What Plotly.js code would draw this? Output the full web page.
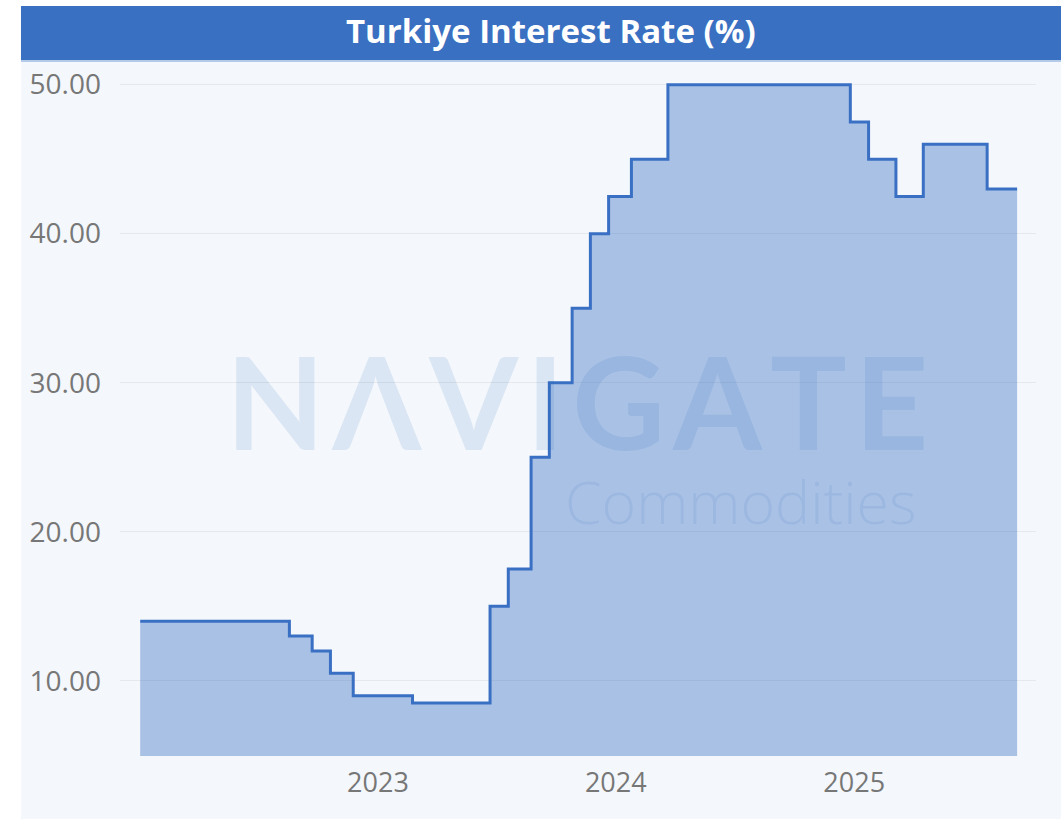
<!DOCTYPE html>
<html>
<head>
<meta charset="utf-8">
<script src="https://cdn.plot.ly/plotly-3.0.1.min.js"></script>
<style>html,body{margin:0;padding:0;background:#fff;}#chart{width:1061px;height:819px;}</style>
</head>
<body>
<div id="chart"></div>
<script>
// Policy-rate change dates (start of each level) and rate values (%)
const dates = [
  "2022-01-01","2022-08-18","2022-09-22","2022-10-20","2022-11-24",
  "2023-02-23","2023-06-22","2023-07-20","2023-08-24","2023-09-21",
  "2023-10-26","2023-11-23","2023-12-21","2024-01-25","2024-03-21",
  "2024-12-26","2025-01-23","2025-03-06","2025-04-17","2025-07-24",
  "2025-09-08"
];
const rates = [
  14, 13, 12, 10.5, 9,
  8.5, 15, 17.5, 25, 30,
  35, 40, 42.5, 45, 50,
  47.5, 45, 42.5, 46, 43,
  43
];
const xTickVals = ["2023-01-01","2024-01-01","2025-01-01"];
const xTickText = ["2023","2024","2025"];
const yTickVals = [10, 20, 30, 40, 50];
const chartTitle = "Turkiye Interest Rate (%)";
const hs = "\u200A";

const trace = {
  x: dates, y: rates, type: "scatter", mode: "lines",
  line: {shape: "hv", color: "#3a70c4", width: 3},
  fill: "tozeroy", fillcolor: "rgba(58,112,196,0.4)",
  hoverinfo: "x+y"
};

const layout = {
  width: 1061, height: 819,
  margin: {l: 120, r: 25, t: 62, b: 63},
  paper_bgcolor: "#f4f7fc", plot_bgcolor: "#f4f7fc",
  showlegend: false,
  font: {family: "Open Sans, sans-serif", color: "#777777"},
  xaxis: {
    type: "date", range: ["2021-12-01", "2025-10-07"],
    tickvals: xTickVals, ticktext: xTickText,
    showgrid: false, zeroline: false, showline: false, ticks: "",
    tickfont: {size: 27, color: "#777777"}, ticklabelstandoff: 8
  },
  yaxis: {
    range: [4.95, 51.52], tickvals: yTickVals, tickformat: ".2f",
    showgrid: true, gridcolor: "#e5e8ec", gridwidth: 1.5,
    zeroline: false, showline: false, ticks: "",
    tickfont: {size: 28, color: "#777777"}, ticklabelstandoff: 18
  },
  shapes: [
    {type: "rect", xref: "paper", yref: "paper", x0: -0.2, x1: 1.1, y0: 1.0807, y1: 1.2, fillcolor: "#ffffff", line: {width: 0}, layer: "above"},
    {type: "rect", xref: "paper", yref: "paper", x0: -0.2, x1: -0.1081, y0: -0.2, y1: 1.2, fillcolor: "#ffffff", line: {width: 0}, layer: "above"},
    {type: "rect", xref: "paper", yref: "paper", x0: -0.1081, x1: 1.03, y0: 1.0029, y1: 1.0807, fillcolor: "#3970c1", line: {width: 0}, layer: "above"},
    {type: "line", xref: "paper", yref: "paper", x0: -0.1081, x1: 1.03, y0: 1.0015, y1: 1.0015, line: {color: "#9fbbe3", width: 1.5}, layer: "above"}
  ],
  annotations: [
    {xref: "paper", yref: "paper", x: 0.4705, y: 1.0447, xanchor: "center", yanchor: "middle",
     text: "<b>" + chartTitle + "</b>", showarrow: false,
     font: {family: "Open Sans, sans-serif", size: 33, color: "#ffffff"}},
    {xref: "paper", yref: "paper", x: 0.4985, y: 0.512, xanchor: "center", yanchor: "middle",
     text: ["N","\u039B","V","I","G","A","T","E"].join(hs), showarrow: false,
     font: {family: "Lato, sans-serif", size: 128, color: "rgba(36,105,185,0.12)", weight: 700}},
    {xref: "paper", yref: "paper", x: 0.8712, y: 0.368, xanchor: "right", yanchor: "middle",
     text: "Commodities", showarrow: false,
     font: {family: "Open Sans, sans-serif", size: 59, color: "rgba(36,105,185,0.09)", weight: 300}}
  ]
};

Plotly.newPlot("chart", [trace], layout, {displayModeBar: false, staticPlot: true});
</script>
</body>
</html>
